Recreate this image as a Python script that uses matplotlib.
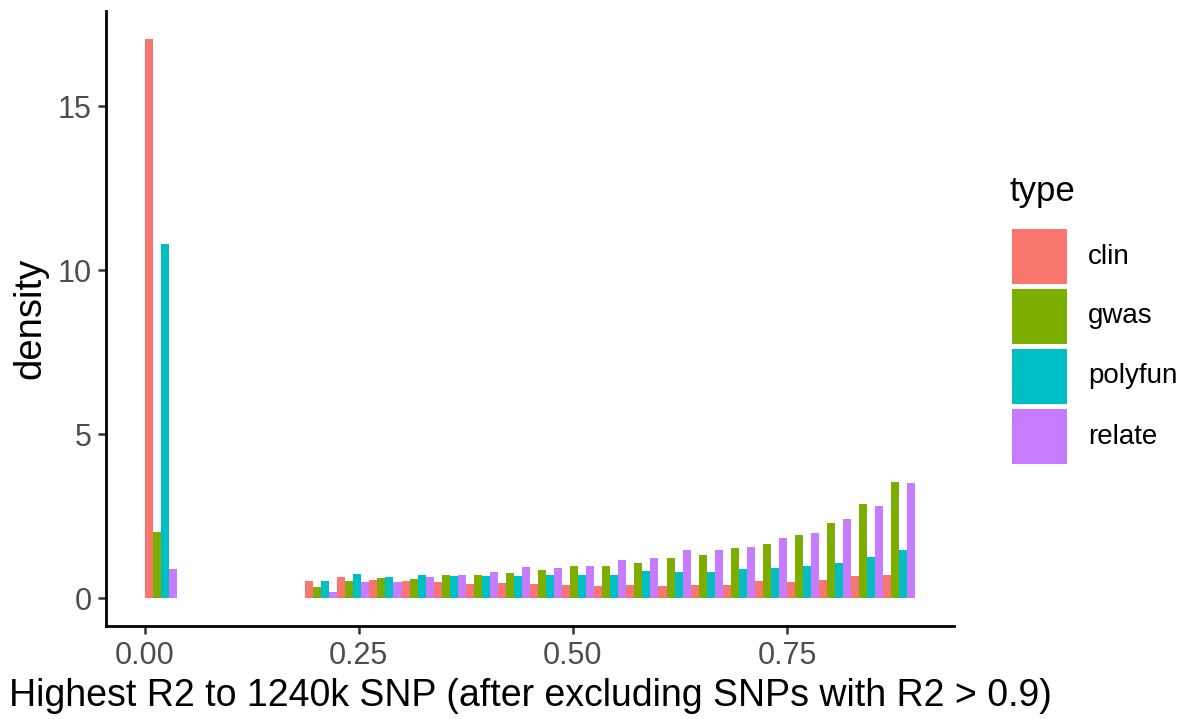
import matplotlib
matplotlib.use("Agg")
import matplotlib.pyplot as plt
from matplotlib.patches import Rectangle
import numpy as np

plt.rcParams['font.family'] = ['Liberation Sans', 'DejaVu Sans']

# histogram bins: 24 bins from 0 to 0.9 (bins 1-4 are empty)
bin_edges = np.linspace(0, 0.9, 25)
types = ["clin", "gwas", "polyfun", "relate"]
colors = ["#F8766D", "#7CAE00", "#00BFC4", "#C77CFF"]

clin = [17.05, 0, 0, 0, 0,
        0.53, 0.65, 0.56, 0.53, 0.50, 0.43, 0.45, 0.43, 0.41, 0.38,
        0.41, 0.38, 0.41, 0.41, 0.51, 0.48, 0.56, 0.68, 0.71]
gwas = [2.02, 0, 0, 0, 0,
        0.33, 0.53, 0.60, 0.58, 0.70, 0.70, 0.75, 0.86, 0.99, 0.99,
        1.06, 1.23, 1.31, 1.52, 1.66, 1.92, 2.28, 2.88, 3.53]
polyfun = [10.8, 0, 0, 0, 0,
           0.53, 0.72, 0.63, 0.71, 0.66, 0.68, 0.68, 0.71, 0.71, 0.71,
           0.81, 0.78, 0.78, 0.89, 0.92, 0.97, 1.06, 1.26, 1.47]
relate = [0.89, 0, 0, 0, 0,
          0.19, 0.48, 0.50, 0.63, 0.70, 0.78, 0.94, 0.91, 0.99, 1.16,
          1.21, 1.47, 1.47, 1.55, 1.82, 1.97, 2.42, 2.81, 3.51]
series = [clin, gwas, polyfun, relate]

W, H = 1188, 719
fig = plt.figure(figsize=(W / 100, H / 100), dpi=100)
# panel in pixels: left 106, right 954, top 11, bottom 626
ax = fig.add_axes([106 / W, (H - 626) / H, (954 - 106) / W, (626 - 11) / H])

bw = bin_edges[1] - bin_edges[0]
sub = bw / len(types)
for i, (vals, col) in enumerate(zip(series, colors)):
    vals = np.array(vals)
    keep = vals > 0
    ax.bar(bin_edges[:-1][keep] + i * sub, vals[keep], width=sub,
           align="edge", color=col, linewidth=0)

ymax = max(max(s) for s in series)
ax.set_xlim(-0.045, 0.945)
ax.set_ylim(-0.05 * ymax, 1.05 * ymax)
ax.set_xticks([0, 0.25, 0.5, 0.75])
ax.set_xticklabels(["0.00", "0.25", "0.50", "0.75"])
ax.set_yticks([0, 5, 10, 15])

for side in ["top", "right"]:
    ax.spines[side].set_visible(False)
for side in ["left", "bottom"]:
    ax.spines[side].set_linewidth(2.0)
ax.tick_params(length=5.5, width=1.8, color="#333333", labelsize=22,
               labelcolor="#4D4D4D", pad=5)

fig.text(530 / W, 1 - 696 / H, "Highest R2 to 1240k SNP (after excluding SNPs with R2 > 0.9)",
         ha="center", va="center", fontsize=27)
fig.text(30 / W, 1 - 318 / H, "density", ha="center", va="center",
         rotation=90, fontsize=27.5)

# legend
fig.text(1010 / W, 1 - 192 / H, "type", ha="left", va="center", fontsize=25)
key_w, key_h, step = 55, 55, 60
for i, (name, col) in enumerate(zip(types, colors)):
    top = 229 + i * step
    fig.add_artist(Rectangle((1012 / W, 1 - (top + key_h) / H), key_w / W, key_h / H,
                             transform=fig.transFigure, color=col, linewidth=0))
    fig.text(1088 / W, 1 - (top + key_h / 2) / H, name, ha="left", va="center",
             fontsize=20)

fig.savefig("out.png", dpi=100)
